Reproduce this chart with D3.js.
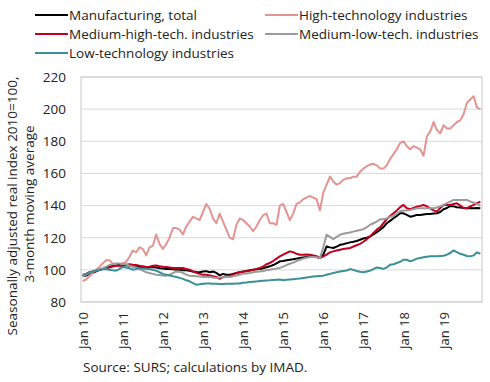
<!DOCTYPE html>
<html>
<head>
<meta charset="utf-8">
<script src="https://cdn.jsdelivr.net/npm/d3@7"></script>
<style>
  body { margin: 0; background: #fff; }
  svg text { font-family: "Open Sans", sans-serif; fill: #222; }
</style>
</head>
<body>
<div id="chart"></div>
<script>
// monthly, Jan 2010 - Dec 2019
var tickLabels = ["Jan 10", "Jan 11", "Jan 12", "Jan 13", "Jan 14", "Jan 15", "Jan 16", "Jan 17", "Jan 18", "Jan 19"];
var yTicks = [80, 100, 120, 140, 160, 180, 200, 220];

var manufacturing = [
  96, 96.5, 97.5, 98, 99, 100, 100.5, 101, 102, 102.5, 103, 103,
  102.6, 103, 102.5, 102.2, 102, 101.8, 101.5, 101.2, 101.5, 101.8, 101.5, 101,
  100.8, 100.6, 100.5, 100.3, 100, 100.2, 99.7, 99.7, 99.5, 99, 98.7, 98.5,
  99, 99.2, 98.5, 99, 98.1, 96.6, 97.5, 97, 97, 97.5, 98, 98.5,
  99, 99.3, 99.7, 100, 100.3, 100.6, 101, 101.6, 102.2, 103, 104, 105.3,
  105.5, 106, 106.3, 106.6, 107, 107.4, 107.7, 108, 108.4, 108.5, 108, 107.4,
  109.4, 114.6, 114, 113.6, 114.5, 115.6, 116, 116.5, 117.1, 117.5, 118, 118.7,
  119.5, 120, 120.8, 122, 123.5, 124.9, 126.6, 129, 130.5, 132.1, 133.5, 135.2,
  135.2, 134.2, 133.1, 133.5, 134.2, 134.2, 134.5, 134.8, 134.8, 135, 135.2, 136,
  137.7, 138.5, 139.8, 139.5, 139, 138.8, 138.5, 138.3, 138.5, 138.3, 138.5, 138.3
];
var highTech = [
  93, 94, 96, 98, 100, 102, 104, 106, 106, 104, 103, 102,
  104, 105, 108, 112, 111, 114, 113, 109, 114, 115, 122, 116,
  113, 116, 120, 126, 126, 125, 122, 127, 130, 133, 132, 131,
  136, 141, 138, 132, 129, 135, 130, 125, 120, 119, 128, 132,
  131, 129, 127, 124, 127, 131, 134, 135, 129, 129, 128, 140,
  141, 136, 131, 135, 141, 142, 144, 145, 146, 145, 144, 137,
  148, 153, 158, 155, 153, 154, 156, 157, 157, 158, 158, 161,
  163, 164.5, 165.5, 166, 165, 163, 163, 165, 169, 172, 175, 179,
  180, 177, 175, 177, 176, 175, 171, 183, 186, 192, 187, 185,
  190, 188, 188, 190, 192, 193, 197, 204, 206, 208, 201, 200
];
var mediumHigh = [
  96.5, 97.5, 98.5, 99, 99.5, 100, 100.5, 101, 101.5, 102, 102.5, 102.5,
  102.6, 103, 103.5, 103.2, 103, 102.5, 102.3, 101.8, 102, 102.5, 102.7, 102.3,
  102, 101.8, 101.5, 101.2, 101.2, 101.2, 101.2, 100.5, 100.1, 99, 98.1, 97.5,
  97, 97, 96.5, 96, 95.6, 94.4, 95.5, 96, 96.4, 97, 98, 98.5,
  98.8, 99.1, 99.5, 100, 100.6, 101.2, 102, 103.5, 104.3, 105.5, 107, 108.4,
  109.5, 110.5, 111.5, 111, 110, 109.4, 109.4, 109.5, 109.4, 109, 108.5, 107.4,
  108.4, 109.5, 110.9, 111.5, 112, 112.5, 113, 113.3, 113.6, 114.5, 115.3, 116.2,
  117.5, 119, 120.8, 123, 125, 126.5, 129, 131.5, 133.5, 135.2, 137, 139,
  140.4, 138.3, 137.7, 138.5, 139.3, 139.8, 140.4, 139.5, 138.3, 137, 136.2, 138.5,
  140.4, 140.4, 140.4, 141, 141.4, 140, 138.5, 138.3, 139.5, 140.4, 141.5, 142.4
];
var mediumLow = [
  96, 97, 98, 99, 100, 100.5, 101, 102, 103, 103.5, 104, 104,
  103.8, 103.5, 102.5, 102, 101.5, 100.5, 99.5, 98.5, 98, 97.5, 97, 96.8,
  96.5, 96.4, 97, 98, 99, 98.8, 98.1, 97, 96.4, 96.2, 96, 95.8,
  95.6, 95.6, 95.5, 95.2, 95, 95.2, 95.4, 95.5, 95.6, 96, 96.5, 97,
  97.5, 97.8, 98.1, 98.5, 98.8, 99, 99.3, 99.7, 100.1, 100.5, 100.8, 101.2,
  102, 103, 103.8, 104.5, 105.5, 106.3, 107, 107.5, 108, 108, 107.8, 107.4,
  114, 121.8, 120.5, 119.1, 120.5, 121.8, 122.5, 122.9, 123.3, 123.8, 124.3, 124.8,
  125.3, 126.5, 128, 129, 130, 131.5, 131.5, 132, 133, 133.6, 135, 136.5,
  136.9, 137, 137.3, 137.8, 138.3, 138.3, 138.3, 138.3, 138.3, 138.3, 138.8, 139.5,
  140.4, 141.5, 142.5, 143.5, 143.5, 143.5, 143.5, 143.5, 142.5, 141.8, 141, 140
];
var lowTech = [
  97, 97.5, 98, 99, 99.5, 100, 100.3, 100.5, 100, 99.7, 99.5, 100.5,
  101.8, 101.5, 101, 100.1, 100.5, 101, 100.8, 100.6, 100.3, 100, 99.5, 98.5,
  97.5, 97, 96.5, 96, 95.6, 95, 94.4, 93.5, 92.9, 91.8, 90.8, 91,
  91.3, 91.5, 91.5, 91.3, 91.3, 91.2, 91.2, 91.3, 91.3, 91.4, 91.5, 91.5,
  92, 92.2, 92.4, 92.6, 92.8, 93, 93.2, 93.4, 93.5, 93.7, 93.9, 94,
  93.5, 93.8, 94, 94.2, 94.4, 94.6, 95, 95.3, 95.6, 95.8, 96, 96.2,
  96.4, 97, 97.5, 98, 98.5, 99, 99.3, 99.6, 100.5, 100, 99.3, 98.8,
  98.5, 99, 99.5, 100.5, 101.5, 101.2, 100.6, 101.5, 103.2, 103.5, 104.3, 105,
  106.3, 106.3, 105.3, 106, 107, 107.4, 107.8, 108.2, 108.4, 108.4, 108.4, 108.6,
  108.8, 109.5, 110.5, 112.1, 111, 110, 109.4, 108.6, 108.4, 109, 110.9, 110
];

var series = [
  { name: "Manufacturing, total", values: manufacturing, color: "#000000" },
  { name: "High-technology industries", values: highTech, color: "#e39491" },
  { name: "Medium-high-tech. industries", values: mediumHigh, color: "#c0001e" },
  { name: "Medium-low-tech. industries", values: mediumLow, color: "#9b9b9b" },
  { name: "Low-technology industries", values: lowTech, color: "#3a9098" }
];

var svgWidth = 490, svgHeight = 382;
var margin = { top: 77, right: 8, bottom: 80, left: 81 };
var width = svgWidth - margin.left - margin.right;
var height = svgHeight - margin.top - margin.bottom;

var svg = d3.select("#chart")
  .append("svg")
  .attr("width", svgWidth)
  .attr("height", svgHeight);

var g = svg.append("g")
  .attr("transform", "translate(" + margin.left + "," + margin.top + ")");

var x = d3.scalePoint()
  .domain(d3.range(manufacturing.length))
  .range([0, width])
  .padding(0.5);

var y = d3.scaleLinear()
  .domain([80, 220])
  .range([height, 0]);

// gridlines
g.append("g")
  .selectAll("line")
  .data(yTicks)
  .enter()
  .append("line")
  .attr("x1", 0)
  .attr("x2", width)
  .attr("y1", d => y(d))
  .attr("y2", d => y(d))
  .attr("stroke", "#d9d9d9")
  .attr("stroke-width", 1);

// frame
g.append("rect")
  .attr("x", 0)
  .attr("y", 0)
  .attr("width", width)
  .attr("height", height)
  .attr("fill", "none")
  .attr("stroke", "#cfcfcf")
  .attr("stroke-width", 1.2);

// y axis
var yAxis = d3.axisLeft(y)
  .tickValues(yTicks)
  .tickSize(0)
  .tickPadding(15);

g.append("g")
  .call(yAxis)
  .call(a => a.select(".domain").remove())
  .selectAll("text")
  .attr("font-size", 13.5)
  .attr("fill", "#222");

// x axis
var xAxis = d3.axisBottom(x)
  .tickValues(d3.range(0, manufacturing.length, 12))
  .tickFormat((d, i) => tickLabels[i])
  .tickSize(0);

g.append("g")
  .attr("transform", "translate(0," + height + ")")
  .call(xAxis)
  .call(a => a.select(".domain").remove())
  .selectAll("text")
  .attr("font-size", 13)
  .attr("fill", "#222")
  .attr("text-anchor", "end")
  .attr("transform", "rotate(-90)")
  .attr("x", -10)
  .attr("y", 0)
  .attr("dy", "0.35em");

// lines
var line = d3.line()
  .x((d, i) => x(i))
  .y(d => y(d));

g.selectAll(".series")
  .data(series)
  .enter()
  .append("path")
  .attr("class", "series")
  .attr("fill", "none")
  .attr("stroke", d => d.color)
  .attr("stroke-width", 2)
  .attr("stroke-linejoin", "round")
  .attr("d", d => line(d.values));

// y title
svg.append("text")
  .attr("transform", "translate(17,206) rotate(-90)")
  .attr("text-anchor", "middle")
  .attr("font-size", 13.5)
  .text("Seasonally adjusted real  index 2010=100,");
svg.append("text")
  .attr("transform", "translate(34,204) rotate(-90)")
  .attr("text-anchor", "middle")
  .attr("font-size", 13.5)
  .text("3-month moving average");

// legend
var legendPos = [[35, 15], [265, 15], [35, 34], [265, 34], [35, 53]];
var legend = svg.selectAll(".legend")
  .data(series)
  .enter()
  .append("g")
  .attr("class", "legend")
  .attr("transform", (d, i) => "translate(" + legendPos[i][0] + "," + legendPos[i][1] + ")");

legend.append("line")
  .attr("x1", 0)
  .attr("x2", 33)
  .attr("stroke", d => d.color)
  .attr("stroke-width", 2);

legend.append("text")
  .attr("x", 34)
  .attr("dy", "0.35em")
  .attr("font-size", 13.5)
  .text(d => d.name);

// source
svg.append("text")
  .attr("x", 83)
  .attr("y", 372)
  .attr("font-size", 13.5)
  .text("Source: SURS; calculations by IMAD.");
</script>
</body>
</html>
